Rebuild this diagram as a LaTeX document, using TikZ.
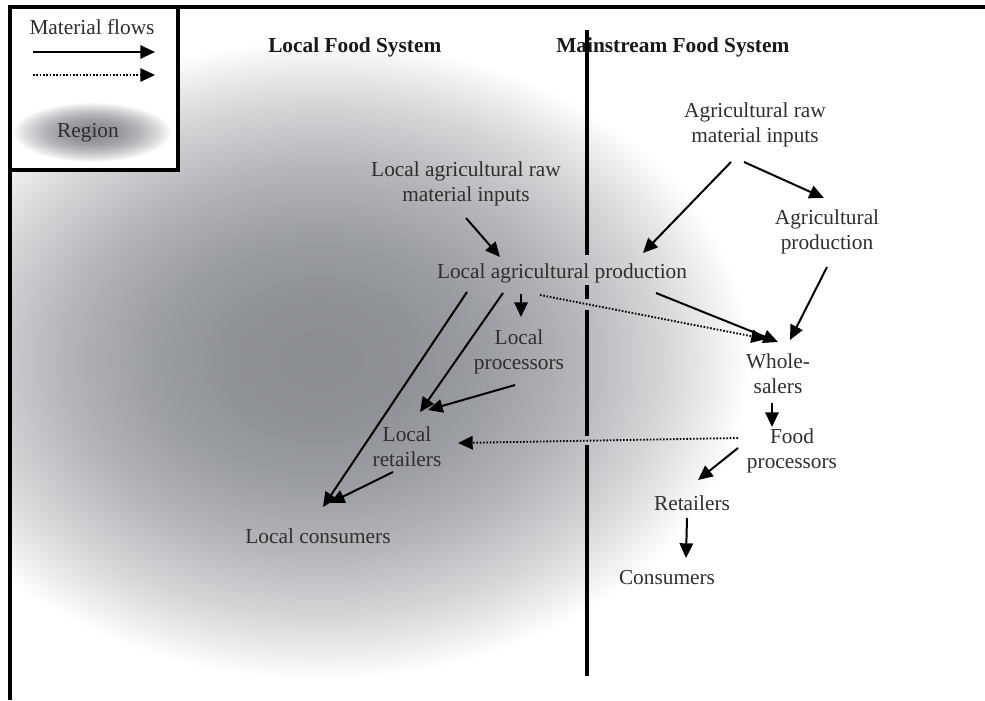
\documentclass[tikz,border=0pt]{standalone}
\usepackage{fontspec}
\setmainfont{Liberation Serif}
\usetikzlibrary{arrows.meta}
\definecolor{txt}{HTML}{2E2E2E}
\pgfdeclareradialshading{regionsh}{\pgfpoint{0bp}{0bp}}{rgb(0bp)=(0.54,0.55,0.57); rgb(5bp)=(0.558,0.568,0.588); rgb(10bp)=(0.612,0.622,0.64); rgb(15bp)=(0.705,0.712,0.727); rgb(20bp)=(0.835,0.838,0.846); rgb(22.5bp)=(0.913,0.915,0.92); rgb(25bp)=(1,1,1); rgb(50bp)=(1,1,1)}
\begin{document}
\begin{tikzpicture}[x=0.75pt,y=-0.75pt,
  lbl/.style={font=\fontsize{16}{18.75}\selectfont, text=txt, align=center, inner sep=0pt},
  head/.style={font=\fontsize{16}{18.75}\selectfont\bfseries, text=black!90, inner sep=0pt},
  arr/.style={line width=1.5pt, draw=black, -{Triangle[length=11pt,width=10pt]}},
  dotarr/.style={line width=1.4pt, draw=black, dash pattern=on 1.2pt off 1.3pt, -{Triangle[length=11pt,width=10pt]}},
  frame/.style={line width=2.4pt, draw=black},
  divider/.style={line width=3pt, draw=black}
]
\useasboundingbox (0,0) rectangle (985,700);
% region shading
\begin{scope}
  \clip (10,7) rectangle (985,700);
  \shade[shading=regionsh] (320,360) ellipse [x radius=322.5pt, y radius=240pt];
\end{scope}
% legend
\fill[white] (10,7) rectangle (178,170);
\shade[shading=regionsh] (92,132) ellipse [x radius=60pt, y radius=22.5pt];
\draw[frame] (10,7) rectangle (178,170);
\draw[frame] (10,700) -- (10,7) -- (985,7);
\node[lbl] (mflow) at (92,27) {Material flows};
\coordinate (lg1s) at (33,52);  \coordinate (lg1e) at (155,52);
\coordinate (lg2s) at (33,75);  \coordinate (lg2e) at (155,75);
\draw[arr] (lg1s) -- (lg1e);
\draw[dotarr] (lg2s) -- (lg2e);
\node[lbl] (region) at (88,133) {Region};
% headings
\node[head, anchor=west] (lfs) at (268,47) {Local Food System};
\node[head, anchor=west] (mfs) at (556,47) {Mainstream Food System};
% divider
\coordinate (d0) at (587,30);  \coordinate (d1) at (587,255);
\coordinate (d2) at (587,285); \coordinate (d3) at (587,299);
\coordinate (d4) at (587,310); \coordinate (d5) at (587,436);
\coordinate (d6) at (587,445); \coordinate (d7) at (587,676);
\draw[divider] (d0) -- (d1);
\draw[divider] (d2) -- (d3);
\draw[divider] (d4) -- (d5);
\draw[divider] (d6) -- (d7);
% nodes
\node[lbl] (araw) at (755,125) {Agricultural raw\\material inputs};
\node[lbl] (aprod) at (827,232) {Agricultural\\production};
\node[lbl] (lraw) at (466,184) {Local agricultural raw\\material inputs};
\node[lbl] (lprod) at (562,273) {Local agricultural production};
\node[lbl] (lproc) at (519,352) {Local\\processors};
\node[lbl] (whole) at (778,374) {Whole-\\salers};
\node[lbl] (fproc) at (792,451) {Food\\processors};
\node[lbl] (lret) at (407,447) {Local\\retailers};
\node[lbl] (ret) at (692,503) {Retailers};
\node[lbl] (cons) at (667,578) {Consumers};
\node[lbl] (lcons) at (318,536) {Local consumers};
% connector end points
\coordinate (a1s) at (466,218); \coordinate (a1e) at (500,257);
\coordinate (a2s) at (731,162); \coordinate (a2e) at (643,253);
\coordinate (a3s) at (744,162); \coordinate (a3e) at (824,198);
\coordinate (a4s) at (827,267); \coordinate (a4e) at (790,340);
\coordinate (a5s) at (656,293); \coordinate (a5e) at (778,342);
\coordinate (a6s) at (540,295); \coordinate (a6e) at (766,339);
\coordinate (a7s) at (521,294); \coordinate (a7e) at (521,317);
\coordinate (a8s) at (503,293); \coordinate (a8e) at (420,412);
\coordinate (a9s) at (467,292); \coordinate (a9e) at (323,507);
\coordinate (a10s) at (515,385); \coordinate (a10e) at (428,410);
\coordinate (a11s) at (393,472); \coordinate (a11e) at (330,503);
\coordinate (a12s) at (738,438); \coordinate (a12e) at (458,443);
\coordinate (a13s) at (772,403); \coordinate (a13e) at (772,427);
\coordinate (a14s) at (738,448); \coordinate (a14e) at (698,480);
\coordinate (a15s) at (687,518); \coordinate (a15e) at (686,558);
% connectors
\draw[arr] (a1s) -- (a1e);
\draw[arr] (a2s) -- (a2e);
\draw[arr] (a3s) -- (a3e);
\draw[arr] (a4s) -- (a4e);
\draw[arr] (a5s) -- (a5e);
\draw[dotarr] (a6s) -- (a6e);
\draw[arr] (a7s) -- (a7e);
\draw[arr] (a8s) -- (a8e);
\draw[arr] (a9s) -- (a9e);
\draw[arr] (a10s) -- (a10e);
\draw[arr] (a11s) -- (a11e);
\draw[dotarr] (a12s) -- (a12e);
\draw[arr] (a13s) -- (a13e);
\draw[arr] (a14s) -- (a14e);
\draw[arr] (a15s) -- (a15e);
\end{tikzpicture}
\end{document}
